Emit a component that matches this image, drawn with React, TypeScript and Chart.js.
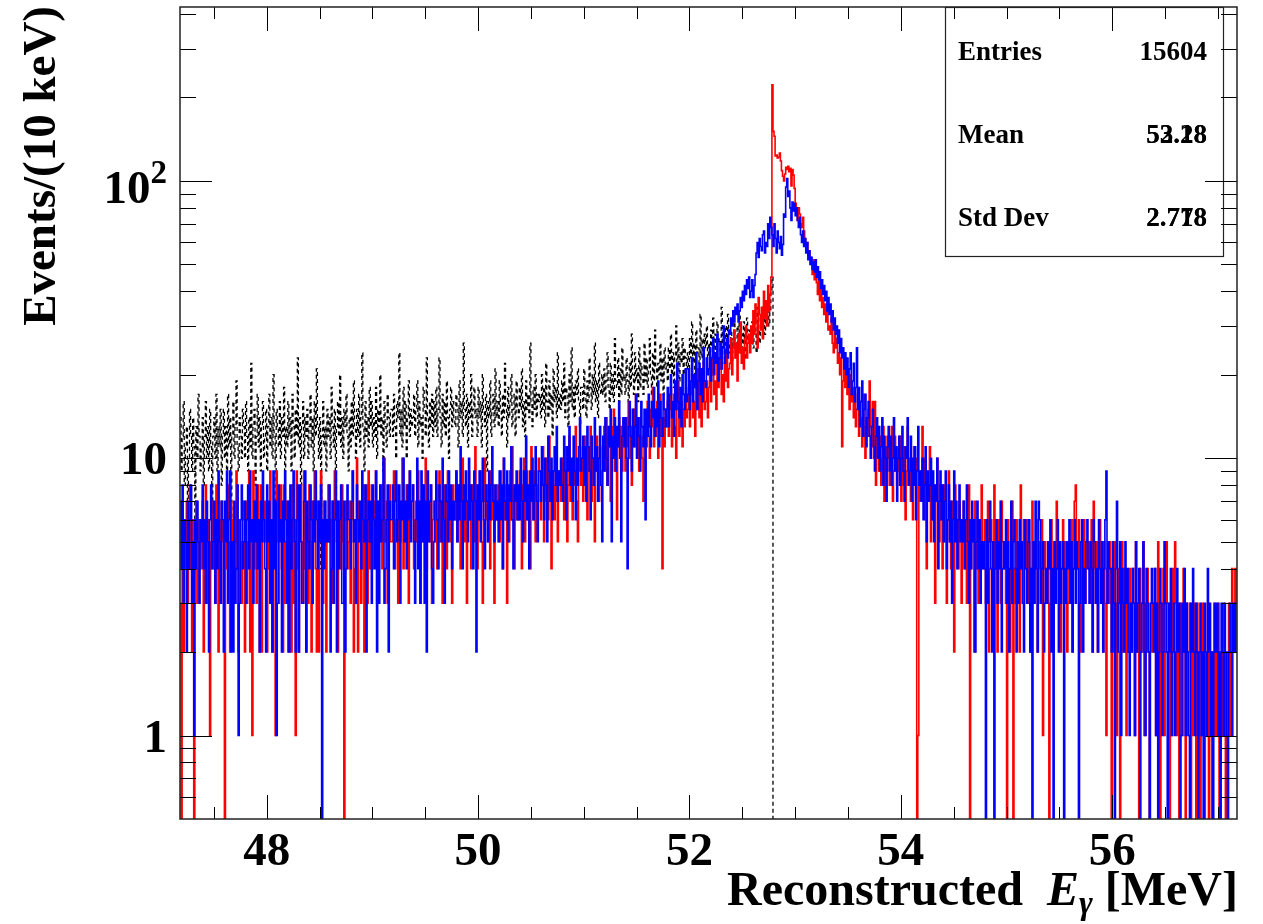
import { useEffect, useRef } from 'react';
import { Chart, registerables } from 'chart.js';

Chart.register(...registerables);

// Histogram binning: 10 keV bins starting at 47.18 MeV
const X_MIN = 47.18;
const X_MAX = 57.18;
const BIN_WIDTH = 0.01;
const Y_MIN = 0.5;
const Y_MAX = 424;

// Counts per 10 keV bin (red histogram), 1000 bins
const RED_COUNTS = [
  3,0,5,2,6,4,7,3,5,8,4,2,6,0,5,7,3,4,6,5,
  4,7,2,5,8,3,6,4,1,5,7,4,6,3,8,5,2,6,4,7,
  5,3,0,6,4,8,5,2,7,4,6,3,5,9,4,2,6,5,3,7,
  6,2,7,3,5,9,2,6,1,9,4,7,3,8,5,2,8,2,6,5,
  7,5,2,6,4,9,6,2,5,7,1,9,5,3,6,8,4,2,8,3,
  5,7,2,7,4,2,8,3,6,1,9,4,2,6,8,5,3,9,4,2,
  6,3,8,5,2,7,6,9,4,2,7,2,6,9,5,3,7,6,2,5,
  8,5,6,3,7,4,9,6,5,2,7,6,4,8,5,0,6,7,4,5,
  7,3,6,9,2,4,6,10,2,7,5,3,4,8,2,6,8,3,9,4,
  6,8,4,7,5,9,3,6,7,5,8,4,6,10,5,7,3,6,8,5,
  5,7,9,4,6,8,3,7,5,6,10,4,7,5,8,6,3,9,6,7,
  8,4,6,7,5,9,6,3,7,8,5,6,10,4,7,6,5,8,3,6,
  7,5,8,4,6,9,5,7,3,6,8,7,4,9,6,5,7,3,8,6,
  6,9,5,7,8,4,7,10,6,5,8,3,7,9,6,4,8,7,5,11,
  7,4,8,6,9,5,3,7,10,6,8,5,7,4,9,6,8,3,7,6,
  8,6,5,9,7,4,10,6,8,3,7,5,9,6,11,7,4,8,6,7,
  6,9,7,4,8,10,5,7,9,6,8,4,11,7,6,9,5,8,7,10,
  9,6,8,11,5,7,10,8,6,12,7,4,9,8,6,10,7,5,9,8,
  7,10,8,6,11,9,5,8,12,7,9,6,10,8,13,7,5,9,11,8,
  10,7,9,12,8,6,11,9,13,7,10,8,5,9,12,10,7,11,8,9,
  10,13,9,14,8,12,11,7,13,10,15,9,12,6,11,14,10,13,9,12,
  12,9,14,11,16,10,13,8,12,15,11,17,10,13,9,14,12,10,7,13,
  14,11,16,12,10,15,13,18,11,14,12,16,10,13,17,12,4,14,11,15,
  13,16,12,15,18,11,14,17,13,10,15,19,12,14,16,11,15,13,17,14,
  15,18,13,17,20,14,16,12,19,15,21,14,17,13,18,22,15,16,19,14,
  18,22,16,20,24,17,19,15,23,18,21,26,17,20,16,22,19,25,18,21,
  22,27,20,25,29,23,26,19,28,24,31,22,25,21,27,30,23,26,28,24,
  30,26,34,28,36,31,25,38,33,29,35,27,40,32,37,30,42,34,39,45,
  222,151,145,123,124,121,122,126,118,109,104,100,106,112,110,113,108,111,96,110,
  105,94,83,78,72,80,76,70,68,74,66,62,58,60,54,56,53,50,46,52,
  44,48,43,39,46,37,41,35,38,33,36,31,34,29,30,28,32,26,24,29,
  25,27,22,24,20,23,11,19,22,18,21,17,19,15,20,16,18,14,17,13,
  15,18,12,16,14,11,17,13,10,14,12,15,19,13,11,16,10,16,8,13,
  11,9,12,8,10,13,7,11,9,12,10,8,11,13,7,9,12,10,8,11,
  9,12,7,10,8,11,6,9,13,8,10,7,9,6,11,8,10,0,1,8,
  7,9,13,8,10,6,4,8,7,11,5,9,6,8,3,7,10,6,5,8,
  6,4,8,5,7,3,6,9,5,4,7,6,2,8,5,6,4,7,5,3,
  5,7,4,6,3,5,8,0,4,6,5,2,7,4,5,3,6,4,8,5,
  4,6,3,5,7,2,4,6,5,3,8,4,5,2,6,4,3,7,5,4,
  5,3,0,6,4,2,5,7,0,4,3,6,4,5,2,8,4,3,6,5,
  4,6,3,5,2,4,7,3,5,4,6,2,4,5,3,6,1,4,5,3,
  4,5,0,3,6,4,2,5,3,7,4,3,5,2,4,6,3,5,4,2,
  3,5,4,6,2,4,7,8,5,4,6,3,2,5,4,6,3,5,4,5,
  4,3,6,2,7,4,3,5,2,4,6,3,4,2,5,3,1,4,3,5,
  3,0,4,2,5,3,1,4,2,0,3,5,2,4,3,1,3,2,4,3,
  2,4,3,1,5,2,3,0,4,2,3,5,1,3,2,4,2,0,3,2,
  3,2,4,1,3,5,2,0,3,2,4,1,2,5,3,2,0,3,1,4,
  2,5,3,1,2,0,3,2,1,4,2,0,3,1,2,3,0,2,1,3,
  2,0,3,1,2,0,1,3,2,0,2,1,3,0,2,1,0,2,3,1,
  2,1,3,0,2,2,1,3,2,0,1,2,3,1,2,4,2,3,4,3,
];

// Counts per 10 keV bin (blue histogram), 1000 bins
const BLUE_COUNTS = [
  7,4,8,3,6,5,2,7,4,6,8,3,5,1,6,4,7,5,3,6,
  5,8,4,6,3,7,5,2,6,8,4,5,7,3,6,4,9,5,3,7,
  6,2,7,5,9,3,6,9,2,5,2,7,3,4,8,1,3,6,8,4,
  5,7,3,6,8,4,9,5,6,3,7,5,8,4,6,2,7,5,9,6,
  4,2,8,5,7,3,6,2,9,4,7,1,3,8,5,6,2,7,5,9,
  6,3,7,2,8,4,6,9,5,2,6,8,2,8,5,3,3,7,9,2,
  7,5,4,8,6,3,7,5,9,6,4,7,5,8,0,6,4,7,5,6,
  5,8,2,4,7,3,6,9,2,7,4,6,8,3,3,7,2,4,8,6,
  6,4,7,9,5,6,3,8,6,5,7,4,9,6,5,8,2,6,7,5,
  7,3,8,6,4,9,2,7,3,8,5,6,10,3,4,6,8,2,7,6,
  6,8,4,7,9,5,6,8,3,7,6,10,5,7,4,8,6,9,5,7,
  8,5,3,6,10,4,7,3,9,5,8,3,7,2,9,5,7,8,4,3,
  5,7,9,6,4,8,7,5,10,6,3,8,7,5,9,6,8,4,7,6,
  7,9,5,8,6,11,7,4,8,6,9,7,5,10,6,8,7,4,9,7,
  2,8,6,9,5,7,10,6,4,8,7,5,9,6,8,11,7,5,8,6,
  7,5,9,6,8,4,10,7,6,9,5,8,7,11,6,4,8,7,9,6,
  8,6,10,7,5,9,7,12,6,8,4,9,7,10,6,8,11,7,5,9,
  9,7,11,8,6,10,8,5,12,9,7,10,6,9,11,8,13,7,9,8,
  10,8,7,12,9,6,11,9,13,8,10,7,12,9,6,10,8,11,14,9,
  10,12,8,11,7,13,11,9,6,12,10,8,14,9,11,7,10,13,8,5,
  12,9,14,10,8,13,11,15,5,12,10,14,9,13,11,16,10,5,12,14,
  11,14,10,4,13,16,12,9,15,11,13,17,10,14,12,9,16,13,11,15,
  6,15,12,17,13,11,16,14,18,12,15,13,19,11,16,14,12,17,15,13,
  15,18,13,17,20,14,16,12,19,15,22,16,14,18,13,20,17,15,21,16,
  17,21,15,19,23,16,20,18,24,15,19,22,17,21,16,25,19,18,23,20,
  21,25,19,23,27,20,24,22,28,19,23,26,21,25,30,22,24,27,23,29,
  28,32,30,34,31,35,33,36,31,34,38,35,40,37,42,39,44,41,45,38,
  40,44,38,42,46,55,60,53,62,58,56,64,66,55,60,58,70,62,74,68,
  64,58,70,62,55,66,60,57,63,54,59,76,74,95,102,88,92,80,72,84,
  78,83,75,80,72,68,74,64,60,66,58,62,55,60,52,56,50,53,48,51,
  47,52,45,49,44,47,41,44,39,42,37,40,34,38,33,36,31,34,29,32,
  28,30,26,29,24,27,23,25,21,24,20,23,18,21,24,17,19,22,16,18,
  25,15,18,13,16,19,12,15,17,11,14,16,12,10,13,15,11,9,12,14,
  10,13,9,11,14,8,12,10,7,11,13,9,12,8,10,14,9,11,7,10,
  12,8,10,13,9,7,11,10,14,8,9,12,7,10,8,11,6,9,13,8,
  9,7,10,6,8,11,5,9,7,8,10,6,9,5,8,7,10,4,7,9,
  6,8,5,7,9,4,6,8,5,7,3,6,9,5,7,4,6,8,5,6,
  5,7,4,6,8,5,3,6,4,7,5,6,2,5,7,4,6,3,5,4,
  5,4,0,6,3,5,7,4,2,5,0,4,6,3,5,4,7,2,4,5,
  4,6,3,5,2,4,7,3,5,6,4,2,5,3,6,4,5,3,2,6,
  4,3,5,6,2,4,0,5,3,7,4,2,7,6,3,4,5,2,3,4,
  3,5,4,6,2,4,0,5,3,4,6,2,5,3,4,5,0,4,3,5,
  4,6,3,5,2,4,6,3,5,4,0,3,5,6,2,4,3,5,6,4,
  3,5,4,2,6,5,3,4,2,6,4,3,5,2,4,6,9,3,5,4,
  4,2,5,3,0,4,7,2,3,5,1,4,3,2,5,3,4,2,1,3,
  2,4,3,1,5,2,3,4,0,2,3,5,2,1,4,3,2,0,3,4,
  3,2,4,1,3,0,2,4,3,1,2,5,3,2,0,3,2,4,1,2,
  3,1,2,4,2,3,0,1,3,2,4,1,3,2,1,0,3,2,4,2,
  1,3,2,0,2,3,1,2,0,3,2,1,4,2,3,1,2,0,2,3,
  2,3,1,2,0,3,2,1,3,2,1,0,2,3,2,1,3,2,3,2,
];

// Counts per 10 keV bin (black dashed histogram), 561 bins up to 52.79 MeV
const BLACK_COUNTS = [
  14,9,12,16,8,11,13,7,10,15,12,9,14,11,6,13,10,17,12,9,
  11,14,8,12,16,10,13,9,15,11,7,12,14,10,17,9,13,11,15,8,
  12,15,10,13,9,17,11,14,6,12,16,10,13,19,11,9,14,12,10,15,
  13,10,16,12,9,14,11,22,10,13,15,8,12,17,11,14,9,13,16,10,
  12,15,9,13,17,11,14,10,20,12,6,15,13,11,16,10,14,12,18,9,
  13,11,16,12,14,9,17,13,10,15,12,23,11,14,8,13,16,10,14,12,
  15,10,13,17,11,14,9,16,12,21,13,10,14,4,12,16,11,13,9,15,
  12,14,10,18,13,11,15,6,13,16,12,20,11,14,10,15,13,17,12,9,
  14,11,16,12,19,13,10,15,12,17,11,14,24,13,9,16,12,14,11,18,
  13,16,11,14,12,18,10,15,13,20,12,14,9,16,13,11,17,14,12,15,
  15,12,17,13,10,16,14,24,12,15,11,18,13,16,10,14,19,12,15,13,
  14,17,12,15,19,11,16,13,14,10,18,15,12,23,14,11,16,13,17,12,
  16,13,18,12,15,23,14,11,17,13,16,12,19,14,10,15,18,13,16,14,
  13,17,15,11,19,14,16,12,26,15,13,17,11,16,14,20,12,15,18,14,
  15,12,18,14,16,11,20,15,13,17,9,16,14,19,12,15,17,13,21,14,
  16,13,19,15,12,17,14,22,15,11,18,14,16,20,13,15,17,12,19,15,
  14,18,15,21,13,16,12,19,15,17,14,26,16,13,18,15,20,14,17,16,
  17,14,20,15,18,13,22,16,14,19,15,17,12,21,16,18,14,24,15,17,
  15,19,16,22,14,18,17,13,20,16,25,15,18,14,19,17,21,16,13,18,
  18,15,21,17,14,19,16,23,18,15,20,17,26,16,19,14,22,18,17,20,
  17,21,16,19,24,18,15,22,17,20,16,27,19,18,23,16,21,17,25,19,
  20,17,23,19,16,22,18,28,20,17,24,19,21,16,25,18,22,20,17,26,
  19,23,18,21,27,20,17,24,19,29,21,18,22,20,26,19,23,17,25,21,
  22,19,25,21,28,20,24,18,23,30,21,26,19,24,22,27,20,25,23,21,
  24,21,27,23,31,22,26,20,29,24,25,22,33,23,27,21,28,25,30,23,
  26,23,29,25,32,24,28,22,31,26,27,24,35,25,29,23,30,27,33,26,
  24,29,22,27,31,25,23,30,26,33,24,28,25,31,27,23,32,26,29,28,
  27,31,25,33,28,24,35,29,26,32,30,27,36,28,33,31,37,30,34,40,
  45,
];

// Axis ticks
const X_TICKS = [47.5, 48, 48.5, 49, 49.5, 50, 50.5, 51, 51.5, 52, 52.5, 53, 53.5, 54, 54.5, 55, 55.5, 56, 56.5, 57];
const X_LABELS = [48, 50, 52, 54, 56];
const Y_MAJOR = [1, 10, 100];
const Y_MINOR = [0.6, 0.7, 0.8, 0.9, 2, 3, 4, 5, 6, 7, 8, 9, 20, 30, 40, 50, 60, 70, 80, 90, 200, 300, 400];

// Statistics box rows (two overlaid entries for Mean and Std Dev)
const STAT_NAMES = ['Entries', 'Mean', 'Std Dev'];
const STAT_VALUES = [['15604'], ['52.28', '53.18'], ['2.718', '2.778']];

const X_TITLE = 'Reconstructed  ';
const X_TITLE_VAR = 'E';
const X_TITLE_SUB = 'γ';
const X_TITLE_UNIT = ' [MeV]';
const Y_TITLE = 'Events/(10 keV)';

const SERIF = '"Liberation Serif", "Times New Roman", Times, serif';

function toSteps(counts: number[], dropAtEnd: boolean) {
  const pts = counts.map((c, i) => ({ x: X_MIN + i * BIN_WIDTH, y: c > 0 ? c : Y_MIN }));
  const last = counts[counts.length - 1];
  pts.push({ x: X_MIN + counts.length * BIN_WIDTH, y: dropAtEnd ? Y_MIN : (last > 0 ? last : Y_MIN) });
  return pts;
}

const frameDecor = {
  id: 'frameDecor',
  afterDatasetsDraw(chart: any) {
    const { ctx, chartArea: a } = chart;
    const xs = chart.scales.x;
    const ys = chart.scales.y;
    ctx.save();

    // statistics box
    const boxL = a.right - 292;
    const boxR = a.right - 14;
    const boxB = a.top + 249;
    ctx.fillStyle = '#ffffff';
    ctx.fillRect(boxL, a.top, boxR - boxL, boxB - a.top);
    ctx.strokeStyle = '#222';
    ctx.lineWidth = 1.2;
    ctx.strokeRect(boxL + 0.5, a.top + 0.5, boxR - boxL, boxB - a.top);
    ctx.fillStyle = '#000';
    ctx.font = `bold 27px ${SERIF}`;
    ctx.textBaseline = 'alphabetic';
    const rowY = [53, 136, 219];
    STAT_NAMES.forEach((name, i) => {
      ctx.textAlign = 'left';
      ctx.fillText(name, boxL + 13, a.top + rowY[i]);
      ctx.textAlign = 'right';
      STAT_VALUES[i].forEach((v) => ctx.fillText(v, boxR - 16, a.top + rowY[i]));
    });

    // ticks on all four sides
    ctx.strokeStyle = '#000';
    ctx.lineWidth = 1;
    ctx.beginPath();
    X_TICKS.forEach((v) => {
      const px = Math.round(xs.getPixelForValue(v)) + 0.5;
      const len = X_LABELS.includes(v) ? 24 : 12;
      ctx.moveTo(px, a.bottom);
      ctx.lineTo(px, a.bottom - len);
      ctx.moveTo(px, a.top);
      ctx.lineTo(px, a.top + len);
    });
    [...Y_MAJOR, ...Y_MINOR].forEach((v) => {
      const py = Math.round(ys.getPixelForValue(v)) + 0.5;
      const len = Y_MAJOR.includes(v) ? 32 : 16;
      ctx.moveTo(a.left, py);
      ctx.lineTo(a.left + len, py);
      ctx.moveTo(a.right, py);
      ctx.lineTo(a.right - len, py);
    });
    ctx.stroke();

    // frame
    ctx.strokeStyle = '#222';
    ctx.lineWidth = 1.5;
    ctx.strokeRect(a.left, a.top, a.right - a.left, a.bottom - a.top);

    // x tick labels
    ctx.fillStyle = '#000';
    ctx.font = `bold 47px ${SERIF}`;
    ctx.textAlign = 'center';
    X_LABELS.forEach((v) => {
      ctx.fillText(String(v), xs.getPixelForValue(v), a.bottom + 46);
    });

    // y tick labels
    const labelRight = a.left - 13;
    ctx.textAlign = 'right';
    ctx.fillText('1', labelRight, ys.getPixelForValue(1) + 16);
    ctx.fillText('10', labelRight, ys.getPixelForValue(10) + 16);
    ctx.font = `bold 33px ${SERIF}`;
    const supW = ctx.measureText('2').width;
    const p100 = ys.getPixelForValue(100);
    ctx.fillText('2', labelRight, p100 + 2);
    ctx.font = `bold 47px ${SERIF}`;
    ctx.fillText('10', labelRight - supW, p100 + 22);

    // x axis title, right aligned to the frame
    ctx.textAlign = 'left';
    const fMain = `bold 48px ${SERIF}`;
    const fVar = `italic bold 48px ${SERIF}`;
    const fSub = `italic bold 33px ${SERIF}`;
    ctx.font = fMain;
    const w1 = ctx.measureText(X_TITLE).width;
    const w4 = ctx.measureText(X_TITLE_UNIT).width;
    ctx.font = fVar;
    const w2 = ctx.measureText(X_TITLE_VAR).width;
    ctx.font = fSub;
    const w3 = ctx.measureText(X_TITLE_SUB).width;
    const baseY = a.bottom + 86;
    let tx = a.right + 1 - (w1 + w2 + w3 + w4);
    ctx.font = fMain;
    ctx.fillText(X_TITLE, tx, baseY);
    tx += w1;
    ctx.font = fVar;
    ctx.fillText(X_TITLE_VAR, tx, baseY);
    tx += w2;
    ctx.font = fSub;
    ctx.fillText(X_TITLE_SUB, tx, baseY + 9);
    tx += w3;
    ctx.font = fMain;
    ctx.fillText(X_TITLE_UNIT, tx, baseY);

    // y axis title, rotated, ending at the top of the axis
    ctx.save();
    ctx.translate(55, a.top - 1);
    ctx.rotate(-Math.PI / 2);
    ctx.textAlign = 'right';
    ctx.font = `bold 47px ${SERIF}`;
    ctx.fillText(Y_TITLE, 0, 0);
    ctx.restore();

    ctx.restore();
  },
};

export default function App() {
  const canvasRef = useRef<HTMLCanvasElement>(null);

  useEffect(() => {
    const canvas = canvasRef.current;
    if (!canvas) return;
    const chart = new Chart(canvas, {
      type: 'line',
      data: {
        datasets: [
          {
            label: 'blue',
            data: toSteps(BLUE_COUNTS, false),
            borderColor: '#0000ff',
            borderWidth: 1.6,
            stepped: true,
            pointRadius: 0,
            fill: false,
          },
          {
            label: 'red',
            data: toSteps(RED_COUNTS, false),
            borderColor: '#ff0000',
            borderWidth: 1.6,
            stepped: true,
            pointRadius: 0,
            fill: false,
          },
          {
            label: 'black',
            data: toSteps(BLACK_COUNTS, true),
            borderColor: '#000000',
            borderWidth: 1.3,
            borderDash: [4, 3],
            stepped: true,
            pointRadius: 0,
            fill: false,
          },
        ],
      },
      options: {
        responsive: false,
        animation: false,
        devicePixelRatio: 1,
        events: [],
        layout: { padding: { left: 0, top: 7, right: 26, bottom: 0 } },
        plugins: { legend: { display: false }, tooltip: { enabled: false } },
        scales: {
          x: {
            type: 'linear',
            min: X_MIN,
            max: X_MAX,
            grid: { display: false },
            border: { display: false },
            ticks: { display: false },
            afterFit: (scale: any) => {
              scale.height = 105;
            },
          },
          y: {
            type: 'logarithmic',
            min: Y_MIN,
            max: Y_MAX,
            grid: { display: false },
            border: { display: false },
            ticks: { display: false },
            afterFit: (scale: any) => {
              scale.width = 180;
            },
          },
        },
      },
      plugins: [frameDecor],
    } as any);
    return () => chart.destroy();
  }, []);

  return (
    <div style={{ position: 'absolute', left: 0, top: 0, width: 1263, height: 924, background: '#ffffff' }}>
      <canvas ref={canvasRef} width={1263} height={924} style={{ display: 'block', width: 1263, height: 924 }} />
    </div>
  );
}
